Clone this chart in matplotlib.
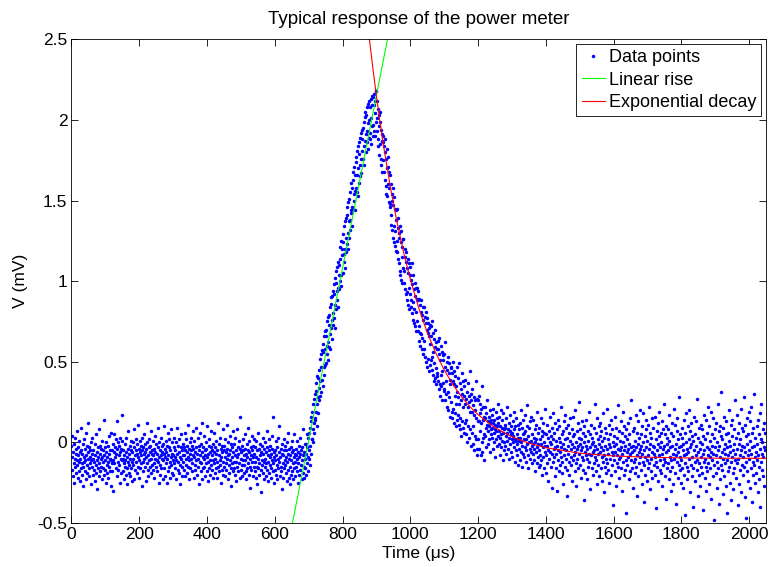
"""plot.py - typical response of the power meter (MATLAB style: dots + two fits)."""
import numpy as np
import matplotlib
matplotlib.use("Agg")
import matplotlib.pyplot as plt
from matplotlib import font_manager
from matplotlib.ticker import FormatStrFormatter

# --- sampled signal: one sample per microsecond, values in 0.01 mV ---
DT_US = 1.0

# baseline before the pulse (0 .. 689 us)
v_base = [
    -2, -17, -9, 4, -21, -6, -13, -1, -25, -10, 3, -15, -7, -19, -4, -11, 7, -14, -22, -8, -3, -18, -12, 1, -6, -24, -10, -16, -5, 9,
    -13, -20, -7, -1, -15, -27, -9, 2, -12, -4, -18, -11, 6, -23, -8, -14, -2, -19, -10, -6, 12, -16, -3, -21, -9, -13, -5, -26, 0, -11,
    -7, -15, 3, -20, -10, -5, -17, -12, -1, -24, -8, 5, -14, -19, -6, -11, -29, -3, -16, -9, 8, -13, -21, -7, -2, -18, -10, -4, -15, -23,
    1, -9, -16, -5, -12, -20, 14, -8, -3, -17, -11, -25, -6, 0, -14, -19, -9, -2, -22, -12, -7, 4, -15, -10, -18, -5, -27, -11, 6, -13,
    -5, -18, -1, -11, -30, -6, 5, -13, -3, -9, -16, 2, -7, -21, -4, 13, -12, 0, -17, -8, -2, -14, -6, -25, 3, -10, -4, -19, 1, -11,
    17, -10, -18, -5, -13, -8, -23, -1, -15, -11, 3, -20, -6, -16, -9, -26, -4, -12, 7, -19, -14, -7, -2, -21, -10, -16, -5, 1, -24, -12,
    -6, 0, -14, -10, -23, -3, 8, -8, -17, -5, -12, 2, -19, -7, -1, -15, -9, 11, -4, -22, -11, -6, 1, -16, -8, -2, -13, -27, -5, 3,
    -12, -3, -18, -7, 5, -10, -15, -1, -6, -24, -9, -4, 12, -13, 0, -17, -8, -21, -3, -11, 2, -15, -6, -2, -19, -10, 7, -14, -7, -5,
    -17, 1, -8, -13, -4, -22, -10, 4, -6, -15, -1, -11, -18, -7, 9, -12, -3, -25, -9, 0, -14, -5, -20, -8, 3, -16, -2, -10, -6, -23,
    -1, -11, -7, 10, -16, -4, -21, -9, 1, -13, -6, -25, -2, -10, 6, -18, -8, -3, -15, 2, -12, -22, -5, -9, 8, -14, -7, -19, 0, -11,
    -8, -20, -3, -13, 3, -9, -16, -5, -23, 0, -11, -7, 9, -17, -2, -12, -19, -6, 2, -14, -9, -26, -3, -10, 5, -15, -5, -21, -8, -1,
    -12, -3, -17, -8, 6, -5, -21, -10, 2, -14, -6, -2, -19, -9, 11, -15, -4, -11, -23, 0, -7, -16, 3, -10, -5, -18, -2, -13, 7, -8,
    -4, -22, -9, 1, -14, -6, -17, 9, -11, -3, -20, -7, 3, -15, -10, -2, -26, -5, -12, 6, -8, -18, -1, -13, -6, -23, 12, -9, -16, -3,
    -10, 4, -15, -5, -21, -8, 0, -13, -4, -18, -9, 10, -12, -7, -24, -2, -16, 2, -11, -6, -20, -3, -14, 7, -8, -17, -5, -11, -1, -22,
    -6, -13, 6, -19, -3, -10, -16, -7, 1, -22, -5, -12, 12, -15, -8, -1, -18, -11, 3, -14, -4, -25, -9, -2, -17, -6, 8, -12, -20, -5,
    -15, -2, -9, -21, 2, -13, -6, -17, 11, -10, -4, -23, -8, 0, -14, -7, -19, 4, -11, -5, -16, -1, -27, -9, -3, -13, 7, -18, -6, -12,
    -1, -16, -8, 3, -20, -5, -12, -24, 8, -9, -15, -3, -18, -7, 1, -13, -22, -4, 16, -10, -17, -6, -2, -14, -21, 2, -11, -5, -19, -8,
    -14, -4, 5, -11, -18, -7, -23, -1, -9, -16, -5, 9, -13, -20, -6, 1, -15, -10, -28, -3, -8, -17, 4, -12, -5, -21, -2, -9, -15, 2,
    -7, -18, -3, -12, 1, -22, -9, -15, -5, -26, -10, 6, -16, -4, -13, -20, -1, -8, -17, -6, -31, -11, -2, -14, 3, -19, -7, -12, -23, -4,
    -10, 0, -15, -21, -6, -13, -3, 7, -17, -8, -12, -24, -5, 2, -19, -9, -14, -2, -22, -7, -16, 4, -11, -4, -18, 16, -13, -25, -6, -9,
    -17, -5, -11, 1, -20, -8, -14, -3, -23, -10, 3, -16, -6, -12, 10, -9, -21, -15, -4, -18, -7, -29, -1, -13, -8, -22, -5, 2, -16, -11,
    -2, -14, -9, -19, -5, -24, -12, 0, -7, 6, -17, -10, -22, -4, -15, -8, -26, -3, -20, -11, -6, 1, -18, -13, -5, -23, 5, -9, -16, -7,
    -12, -21, -4, -15, -8, 1, -18, -10, -25, -6, -13, -2, -20, -9, 3, -17, -7, -14, -5, -23, -11, -3, -19, -8, 8, -15, -22, -6, -10, -1,
]

# linear rise (690 .. 899 us)
v_rise = [
    -16, -1, -20, -7, 5, -13, -3, -18, 3, -9,
    -10, 6, -5, -14, 9, -2, 13, -7, 16, 2,
    2, 19, 8, 24, 0, 27, 12, 6, 30, 15,
    14, 32, 19, 37, 24, 10, 41, 28, 18, 40,
    26, 45, 34, 29, 52, 38, 55, 31, 47, 57,
    39, 56, 35, 61, 47, 66, 42, 58, 69, 48,
    66, 49, 70, 55, 75, 60, 51, 78, 62, 73,
    59, 79, 67, 84, 58, 86, 71, 90, 76, 64,
    91, 73, 94, 80, 98, 77, 92, 71, 102, 85,
    99, 83, 106, 88, 109, 94, 84, 112, 96, 104,
    110, 95, 114, 100, 121, 104, 125, 97, 116, 120,
    124, 105, 129, 112, 134, 117, 108, 137, 120, 127,
    139, 118, 141, 123, 146, 130, 120, 149, 137, 127,
    151, 132, 155, 138, 144, 161, 142, 134, 158, 146,
    163, 145, 168, 150, 171, 154, 144, 166, 156, 174,
    158, 177, 155, 181, 166, 153, 184, 170, 161, 179,
    186, 165, 189, 172, 192, 176, 167, 194, 181, 188,
    195, 176, 199, 184, 172, 202, 187, 205, 191, 180,
    203, 186, 208, 193, 182, 210, 198, 189, 212, 200,
    192, 208, 188, 213, 201, 185, 215, 196, 209, 190,
    214, 197, 209, 193, 216, 204, 190, 212, 199, 218,
]

# exponential decay and tail (900 .. 2047 us)
v_decay = [
    218, 201, 193, 212, 188, 207, 184, 203, 196, 178, 205, 185, 199, 176, 194, 172, 191, 187, 168, 186,
    175, 190, 168, 184, 163, 180, 188, 159, 176, 154, 170, 182, 153, 171, 160, 177, 149, 168, 158, 146,
    166, 148, 141, 160, 135, 154, 132, 150, 158, 127, 147, 134, 152, 124, 145, 131, 122, 144, 119, 138,
    145, 125, 118, 139, 114, 133, 111, 130, 127, 106, 134, 104, 124, 131, 101, 121, 115, 99, 126, 108,
    126, 106, 99, 120, 95, 115, 92, 112, 118, 88, 108, 93, 114, 85, 105, 96, 111, 83, 104, 92,
    109, 88, 101, 84, 111, 80, 98, 87, 104, 76, 95, 83, 74, 99, 72, 91, 81, 96, 69, 89,
    96, 75, 88, 69, 94, 72, 63, 89, 68, 85, 60, 81, 67, 88, 58, 79, 65, 84, 55, 76,
    63, 84, 58, 78, 53, 74, 81, 50, 70, 77, 47, 68, 74, 52, 71, 44, 66, 73, 48, 61,
    72, 51, 66, 45, 75, 53, 42, 68, 56, 38, 64, 49, 70, 40, 59, 46, 36, 62, 41, 58,
    43, 63, 38, 58, 33, 55, 65, 36, 51, 29, 60, 42, 35, 56, 44, 26, 54, 37, 51, 32,
    55, 33, 47, 26, 62, 38, 30, 50, 22, 45, 31, 53, 20, 43, 28, 49, 36, 16, 39, 47,
    46, 25, 19, 43, 15, 38, 50, 21, 36, 12, 44, 29, 18, 41, 10, 35, 24, 47, 14, 31,
    40, 17, 28, 11, 49, 24, 8, 37, 15, 33, 4, 26, 43, 13, 30, 9, 22, 38, 6, 29,
    35, 12, 24, 39, 5, 27, 14, 31, 0, 22, 37, 10, 29, 3, 25, 44, 8, 19, -2, 26,
    30, 6, 19, 33, -1, 23, 10, 28, -5, 17, 26, 4, 20, 38, 2, 15, -4, 27, -8, 13,
    26, 2, 13, 29, -4, 18, 7, 24, -8, 12, 21, 0, 35, -6, 14, 3, 22, -11, 16, 5,
    22, 4, 15, 9, -3, 18, 11, 26, 7, 13, -1, 16, 10, 2, 20, 12, -6, 8, 14, 5,
    3, 17, 9, -4, 12, 21, 6, 0, 14, 8, -9, 11, 19, 2, 7, 15, -2, 10, 24, 4,
    12, -1, 7, 16, 3, -8, 10, 5, 20, -3, 9, 1, 14, -11, 6, 18, 0, 8, -5, 11,
    -2, 9, 4, 15, -7, 6, 1, 22, -4, 8, 12, -10, 3, 7, -1, 17, 5, -6, 10, 2,
    6, -9, 13, 0, 4, -3, 19, 8, -12, 2, 10, -5, 1, 15, -8, 5, -1, 11, -14, 3,
    -4, 8, 1, -11, 12, 3, -6, 20, 0, -2, 9, -15, 5, -7, 14, 2, -9, 6, -3, 17,
    7, -12, 2, -5, 10, -1, 23, -8, 4, -16, 0, 9, -4, 13, -10, 1, -6, 16, -2, -13,
    5, -7, -1, 14, -11, 3, -4, 8, -18, 0, 11, -6, 2, -13, 19, -3, -9, 6, -1, -15,
    9, -5, -14, 2, -8, 15, -1, -11, 4, -20, 7, -3, 12, -9, 0, -16, 6, -6, 21, -2,
    -8, 5, -19, -2, 11, -13, -5, 3, -24, 7, -10, 0, 16, -6, -15, 4, -1, -28, 9, -7,
    2, -12, 18, -4, -9, 6, -21, -3, 12, -16, 1, -7, -30, 8, -2, 14, -11, -5, 3, -18,
    10, -6, -14, 0, 22, -9, -3, -19, 5, -12, 7, -26, -1, 13, -8, -4, 17, -15, 2, -10,
    -5, 9, -17, 3, -33, -7, 11, -2, -12, 6, -20, 1, 15, -9, -4, -14, 8, -24, -1, 4,
    -11, 16, -3, -8, 5, -18, -6, 20, -13, 0, -27, 7, -4, -10, 12, -2, -16, 3, -7, 25,
    -1, -14, 8, -22, -5, 2, -9, 13, -3, -17, 6, -11, -36, 0, 10, -6, -19, 4, -8, -2,
    14, -10, -4, -23, 7, -15, 1, -7, 19, -12, -3, 5, -29, -8, 11, -1, -16, 3, -6, -20,
    0, 9, -13, -5, 24, -9, -2, -18, 6, -11, 15, -4, -26, 2, -7, -14, 10, -1, -21, 4,
    -6, 12, -16, -3, 7, -24, -9, 1, -12, 18, -5, -31, 3, -8, -15, 9, -2, -19, 6, -10,
    21, -4, -13, 2, -7, -17, 11, -1, -25, 5, -10, -3, 14, -20, -6, 8, -14, -39, 0, -8,
    4, -11, -2, 16, -18, -6, 9, -27, -1, 3, -13, -8, 23, -15, -4, 7, -22, -10, 1, -5,
    -9, 13, -16, -3, 6, -30, -7, 19, -12, 0, -20, -5, 10, -2, -17, 4, -11, -44, 8, -6,
    2, -14, -4, 12, -9, -23, 5, -1, -18, 15, -7, -11, -3, 26, -16, -6, 7, -28, -2, -12,
    9, -5, -19, 1, -10, 17, -15, -3, -33, 6, -8, -1, 13, -21, -6, 3, -13, -9, 20, -4,
    -17, 5, -2, -26, 10, -7, -12, 0, 18, -14, -5, -37, 4, -9, -20, 8, -3, 14, -11, -24,
    1, -8, 11, -16, -4, 22, -13, -1, -29, 6, -10, -18, 3, -6, 15, -22, -2, 9, -14, -7,
    -3, 16, -20, -9, 2, -12, -41, 7, -5, -15, 12, -1, -24, 4, -8, 19, -17, -3, -11, 6,
    -19, 0, -7, 13, -27, -4, 8, -14, -10, 24, -2, -21, 5, -12, -6, -35, 10, -16, -1, 3,
    8, -13, -5, -23, 1, 17, -9, -18, -3, 6, -30, -11, 12, -2, -15, 4, -26, -7, 21, -10,
    -4, 11, -19, -8, -1, -38, 7, -12, 15, -6, -22, 2, -14, -3, 28, -17, -9, 5, -25, -2,
    -11, 3, -16, 9, -5, -28, -1, 14, -20, -8, 6, -13, -45, 0, -7, 18, -15, -4, -23, 10,
    -6, -18, 2, -10, 20, -3, -31, 7, -14, -1, 12, -21, -9, 4, -16, -40, 1, -5, 16, -12,
    5, -24, -8, 13, -2, -17, -11, 27, -6, -33, 3, -13, 9, -20, -4, 0, -27, 11, -9, -15,
    -1, 8, -19, -7, -42, 4, -12, 17, -5, -22, 2, -10, -30, 14, -15, -3, 6, -18, -8, 22,
    -13, -4, 10, -26, -9, 1, -16, 19, -6, -35, 5, -11, -2, 15, -21, -7, -48, 3, -14, 8,
    -3, -19, 12, -8, -28, 0, -12, 24, -5, -16, 7, -38, -2, 10, -23, -9, 4, -14, 31, -6,
    -17, 2, -10, -32, 9, -4, -21, 16, -1, -13, -7, 5, -27, 13, -11, -3, -44, 6, -18, -8,
    1, -15, 20, -6, -25, -2, 11, -12, -36, 4, -9, 14, -19, -5, -29, 8, -1, -16, 26, -11,
    -7, 3, -22, -13, 17, -4, -39, 6, -10, -1, 12, -26, -8, 2, -17, 21, -5, -31, 9, -14,
    -2, -20, 7, -9, 28, -15, -3, -34, 11, -6, -12, 4, -47, -1, 15, -18, -8, 5, -24, 19,
    -10, -5, 13, -28, 1, -16, -7, 22, -3, -37, 6, -12, -20, 9, -2, -14, 30, -9, -25, 3,
    -6, -19, 10, -11, -1, -31, 14, -8, -23, 5, -15, 18, -4, -40, 2, -12, 24, -7, -17, 0,
    -9, 8, -21, -3, 12, -27, -5, 6,
]

# fitted curves (us, mV)
rise_t = [640, 950]
rise_v = [-0.632, 2.685]
decay_t = [870, 880, 890, 900, 910, 920, 940, 960, 980, 1000, 1025, 1050, 1075,
           1100, 1125, 1150, 1175, 1200, 1250, 1300, 1350, 1400, 1500, 1600,
           1700, 1800, 1900, 2050]
decay_v = [2.679, 2.490, 2.314, 2.150, 1.997, 1.854, 1.598, 1.375, 1.181, 1.013,
           0.833, 0.682, 0.556, 0.450, 0.361, 0.287, 0.224, 0.172, 0.091, 0.035,
           -0.005, -0.033, -0.067, -0.084, -0.092, -0.096, -0.098, -0.099]

TITLE = "Typical response of the power meter"
XLABEL = "Time (\u03bcs)"
YLABEL = "V (mV)"
LABELS = ["Data points", "Linear rise", "Exponential decay"]
X_TICKS = list(range(0, 2001, 200))
Y_TICKS = [-0.5, 0, 0.5, 1, 1.5, 2, 2.5]

# MATLAB-ish narrow Helvetica look if the narrow face is there
_names = {f.name for f in font_manager.fontManager.ttflist}
if "Liberation Sans Narrow" in _names:
    FAMILY, FS, FS_TITLE, FS_LEG = "Liberation Sans Narrow", 15.5, 16.5, 16
else:
    FAMILY, FS, FS_TITLE, FS_LEG = "Liberation Sans", 12.5, 13.5, 13
plt.rcParams["font.family"] = [FAMILY, "DejaVu Sans"]
plt.rcParams["axes.unicode_minus"] = False

volts = np.array(v_base + v_rise + v_decay, dtype=float) / 100.0
t_us = np.arange(len(volts)) * DT_US

fig = plt.figure(figsize=(7.71, 5.67), dpi=100)
ax = fig.add_axes([0.0927, 0.0776, 0.9008, 0.8531])

ax.plot(t_us, volts, ".", color=(0, 0, 1), ms=5, mew=0, label=LABELS[0])
ax.plot(rise_t, rise_v, "-", color=(0, 1, 0), lw=0.8, label=LABELS[1])
ax.plot(decay_t, decay_v, "-", color=(1, 0, 0), lw=0.8, label=LABELS[2])

ax.set_xlim(0, 2050)
ax.set_ylim(-0.5, 2.5)
ax.set_xticks(X_TICKS)
ax.set_yticks(Y_TICKS)
ax.yaxis.set_major_formatter(FormatStrFormatter("%g"))
ax.tick_params(direction="in", top=True, right=True, length=5, width=0.6,
               labelsize=FS, pad=3, colors="k")
for sp in ax.spines.values():
    sp.set_linewidth(0.6)
    sp.set_color("k")

ax.set_title(TITLE, fontsize=FS_TITLE, pad=11)
ax.set_xlabel(XLABEL, fontsize=FS, labelpad=3)
ax.set_ylabel(YLABEL, fontsize=FS, labelpad=7)

leg = ax.legend(loc="upper right", numpoints=1, fontsize=FS_LEG, frameon=True,
                fancybox=False, edgecolor="k", framealpha=1,
                borderaxespad=0.25, borderpad=0.3, labelspacing=0.3,
                handlelength=1.3, handletextpad=0.2)
leg.get_frame().set_linewidth(0.6)

fig.savefig("out.png", dpi=100)
